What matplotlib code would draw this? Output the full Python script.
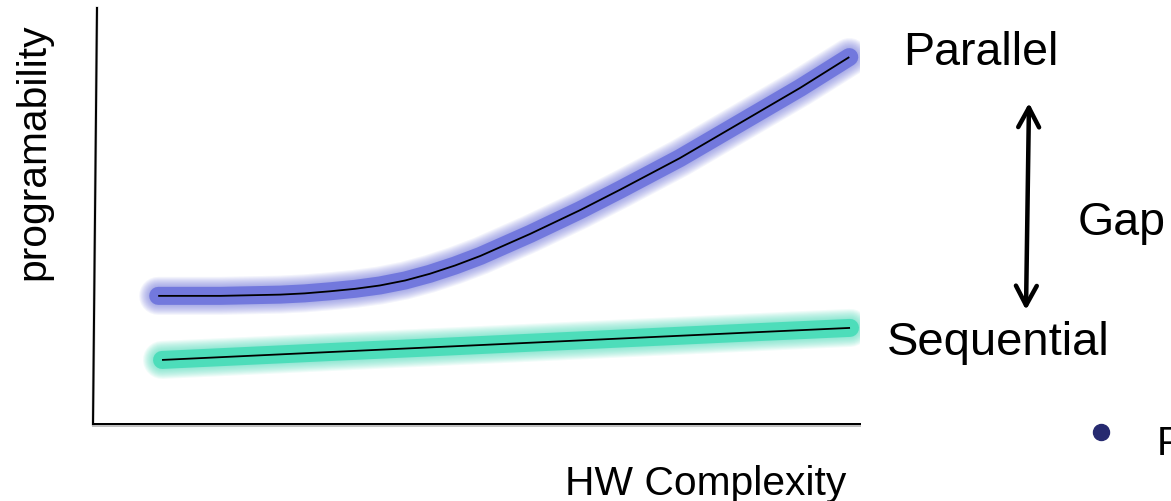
import numpy as np
import matplotlib
matplotlib.use("Agg")
import matplotlib.pyplot as plt

plt.rcParams['font.family'] = ['Liberation Sans', 'DejaVu Sans']

# curves in chart units (0-100 on both axes)
parallel_x = [8.5, 16.6, 24.4, 27.6, 30.9, 34.2, 37.4, 40.7, 43.9, 47.2, 50.5, 57.0,
              63.5, 68.7, 76.5, 84.4, 92.2, 98.6]
parallel_y = [30.8, 30.8, 31.1, 31.4, 31.9, 32.5, 33.3, 34.5, 36.1, 38.1, 40.4, 45.7,
              51.4, 56.3, 63.9, 72.4, 80.8, 88.2]
sequential_x = [9.0, 30.9, 53.1, 85.7, 98.7]
sequential_y = [15.4, 17.3, 19.2, 22.0, 23.1]

labels = {'parallel': 'Parallel', 'sequential': 'Sequential', 'gap': 'Gap'}
x_label = 'HW Complexity'
y_label = 'programability'

W, H = 1171, 501
PX = 72 / 100  # points per pixel


def glow_line(ax, x, y, color):
    # soft halo: a few wide transparent strokes, then the solid band, then the thin core
    for w in np.linspace(38, 19, 10):
        ax.plot(x, y, color=color, lw=w * PX, alpha=0.08,
                solid_capstyle='round', solid_joinstyle='round')
    ax.plot(x, y, color=color, lw=18 * PX, alpha=0.9,
            solid_capstyle='round', solid_joinstyle='round')
    ax.plot(x, y, color='black', lw=1.8 * PX, solid_capstyle='butt', solid_joinstyle='round')


fig = plt.figure(figsize=(W / 100, H / 100), dpi=100)

# overlay in pixel coordinates for frame, annotation text and arrow
over = fig.add_axes([0, 0, 1, 1])
over.set_xlim(0, W)
over.set_ylim(H, 0)
over.axis('off')

# chart area
ax = fig.add_axes([93 / W, (H - 424) / H, 767 / W, 416 / H])
ax.set_xlim(0, 100)
ax.set_ylim(0, 100)
ax.axis('off')
ax.patch.set_alpha(0)

glow_line(ax, parallel_x, parallel_y, '#6c73dc')
glow_line(ax, sequential_x, sequential_y, '#46dcb8')

# hand drawn looking frame
over.plot([97, 93], [8, 424], color='#aaaaaa', lw=3 * PX, alpha=0.6)
over.plot([97, 93], [8, 424], color='black', lw=2 * PX)
over.plot([93, 860], [425.5, 425.5], color='#999999', lw=2 * PX, alpha=0.6)
over.plot([93, 860], [424, 424], color='black', lw=2 * PX)

over.text(903, 65, labels['parallel'], fontsize=33.5, va='baseline', ha='left')
over.text(887, 355, labels['sequential'], fontsize=34, va='baseline', ha='left')
over.text(1078, 235, labels['gap'], fontsize=33.5, va='baseline', ha='left')
over.text(565, 495, x_label, fontsize=29.3, va='baseline', ha='left')
over.text(33, 152, y_label, fontsize=29.3, rotation=90, va='center', ha='center')

# gap arrow
over.annotate('', xy=(1029, 103), xytext=(1026, 310),
              arrowprops=dict(arrowstyle='<->, head_length=1.4, head_width=0.75',
                              lw=4.5 * PX, color='black', shrinkA=0, shrinkB=0))

# cut off bullet point at the edge
over.plot([1101], [432], 'o', ms=16 * PX, color='#262a70')
over.text(1157, 455, 'F', fontsize=29, va='baseline', ha='left', clip_on=False)

fig.savefig('out.png', dpi=100)
